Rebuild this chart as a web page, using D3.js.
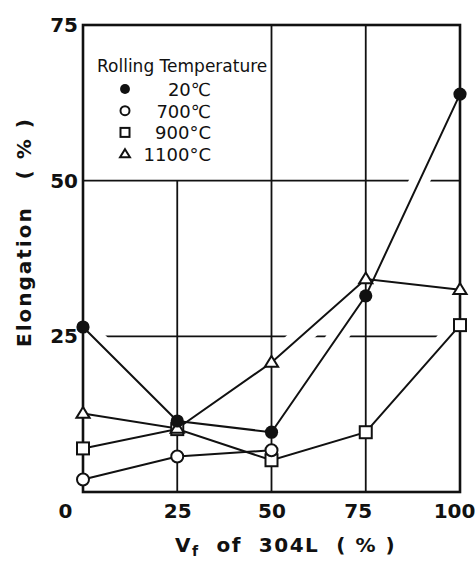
<!DOCTYPE html>
<html>
<head>
<meta charset="utf-8">
<script src="https://cdn.jsdelivr.net/npm/d3@7/dist/d3.min.js"></script>
<style>
  html, body { margin: 0; padding: 0; background: #fff; }
  svg { display: block; }
  text { font-family: "DejaVu Sans", "Liberation Sans", sans-serif; fill: #111; }
</style>
</head>
<body>
<svg id="chart" width="475" height="561"></svg>
<script>
// Vf of 304L (%) for each measured specimen
const vf = [0, 25, 50, 75, 100];

// Elongation (%) per rolling temperature
const elong20 = [26.5, 11.4, 9.6, 31.5, 63.9];
const elong700 = [2.0, 5.7, 6.7];
const elong900 = [7.0, 10.1, 5.1, 9.6, 26.8];
const elong1100 = [12.6, 10.2, 20.8, 34.2, 32.5];

const seriesNames = ["20\u2103", "700\u2103", "900\u00b0C", "1100\u00b0C"];
const seriesMarks = ["dot", "circle", "square", "triangle"];

const xTicks = [0, 25, 50, 75, 100];
const yTicks = [25, 50, 75];
const legendTitle = "Rolling Temperature";

const series = [elong20, elong700, elong900, elong1100].map((vals, i) => ({
  name: seriesNames[i],
  mark: seriesMarks[i],
  points: vals.map((v, j) => ({ x: vf[j], y: v }))
}));

const svg = d3.select("#chart");
const ink = "#111";

const x = d3.scaleLinear().domain([0, 100]).range([83, 460]);
const y = d3.scaleLinear().domain([0, 75]).range([492, 25]);

const line = d3.line().x(d => x(d.x)).y(d => y(d.y));

// horizontal grid lines
svg.append("g").selectAll("line").data([25, 50]).join("line")
  .attr("x1", x(0)).attr("x2", x(100))
  .attr("y1", d => y(d)).attr("y2", d => y(d))
  .attr("stroke", ink).attr("stroke-width", 1.8);

// white halo under the curves breaks the horizontal grid where they cross
svg.append("g").selectAll("path").data(series).join("path")
  .attr("d", d => line(d.points))
  .attr("fill", "none").attr("stroke", "#fff").attr("stroke-width", 20);

// vertical grid lines; the 25 line stops under the legend
const vgrid = svg.append("g");
vgrid.append("line")
  .attr("x1", x(25)).attr("x2", x(25)).attr("y1", y(50)).attr("y2", y(0))
  .attr("stroke", ink).attr("stroke-width", 1.8);
vgrid.selectAll("line.full").data([50, 75]).join("line").attr("class", "full")
  .attr("x1", d => x(d)).attr("x2", d => x(d)).attr("y1", y(75)).attr("y2", y(0))
  .attr("stroke", ink).attr("stroke-width", 1.8);

// plot frame
svg.append("rect")
  .attr("x", x(0)).attr("y", y(75))
  .attr("width", x(100) - x(0)).attr("height", y(0) - y(75))
  .attr("fill", "none").attr("stroke", ink).attr("stroke-width", 2.6);

// axes (labels only)
const yAxis = svg.append("g").attr("transform", `translate(${x(0)},0)`)
  .call(d3.axisLeft(y).tickValues(yTicks).tickSize(0).tickPadding(5));
const xAxis = svg.append("g").attr("transform", `translate(0,${y(0)})`)
  .call(d3.axisBottom(x).tickValues(xTicks).tickSize(0).tickPadding(12));
[yAxis, xAxis].forEach(g => {
  g.select(".domain").remove();
  g.selectAll("text")
    .attr("font-family", "'DejaVu Sans', sans-serif")
    .attr("font-size", 20).attr("font-weight", "bold").attr("fill", ink);
});
const xNudge = { 0: -18, 75: -8, 100: -6 };
xAxis.selectAll(".tick text").attr("dx", d => xNudge[d] || 0);

// data lines
svg.append("g").selectAll("path").data(series).join("path")
  .attr("d", d => line(d.points))
  .attr("fill", "none").attr("stroke", ink).attr("stroke-width", 2);

// marker drawing
function drawMark(sel, mark, size) {
  if (mark === "dot") {
    sel.append("circle").attr("r", size * 0.55).attr("fill", ink);
  } else if (mark === "circle") {
    sel.append("circle").attr("r", size * 0.5).attr("fill", "#fff")
      .attr("stroke", ink).attr("stroke-width", 2);
  } else if (mark === "square") {
    sel.append("rect").attr("x", -size / 2).attr("y", -size / 2)
      .attr("width", size).attr("height", size).attr("fill", "#fff")
      .attr("stroke", ink).attr("stroke-width", 2);
  } else {
    const h = size * 0.9, w = size * 0.55;
    sel.append("path").attr("d", `M0,${-h * 0.6}L${w},${h * 0.4}L${-w},${h * 0.4}Z`)
      .attr("fill", "#fff").attr("stroke", ink).attr("stroke-width", 2);
  }
}

const markOrder = ["square", "circle", "triangle", "dot"];
markOrder.forEach(m => {
  const s = series.find(d => d.mark === m);
  svg.append("g").selectAll("g").data(s.points).join("g")
    .attr("transform", d => `translate(${x(d.x)},${y(d.y)})`)
    .each(function () { drawMark(d3.select(this), m, 12); });
});

// legend
const legend = svg.append("g");
legend.append("text").attr("x", 97).attr("y", 72)
  .attr("font-size", 17).attr("font-weight", "normal").text(legendTitle);
series.forEach((s, i) => {
  const cy = 89 + i * 21.7;
  const g = legend.append("g").attr("transform", `translate(125,${cy})`);
  drawMark(g, s.mark, 9);
  legend.append("text").attr("x", 211).attr("y", cy + 7)
    .attr("text-anchor", "end").attr("font-size", 18).attr("font-weight", "normal")
    .text(s.name);
});

// axis titles
svg.append("text")
  .attr("transform", "translate(31,347) rotate(-90)")
  .attr("text-anchor", "start").attr("font-size", 20).attr("font-weight", "bold")
  .attr("letter-spacing", 2).attr("xml:space", "preserve")
  .text("Elongation   ( % )");

const xt = svg.append("text").attr("x", 175).attr("y", 552)
  .attr("text-anchor", "start").attr("font-size", 20).attr("font-weight", "bold")
  .attr("letter-spacing", 1.5).attr("xml:space", "preserve");
xt.append("tspan").text("V");
xt.append("tspan").attr("font-size", 14).attr("dy", 4).text("f");
xt.append("tspan").attr("dy", -4).text("  of  304L  ( % )");
</script>
</body>
</html>
